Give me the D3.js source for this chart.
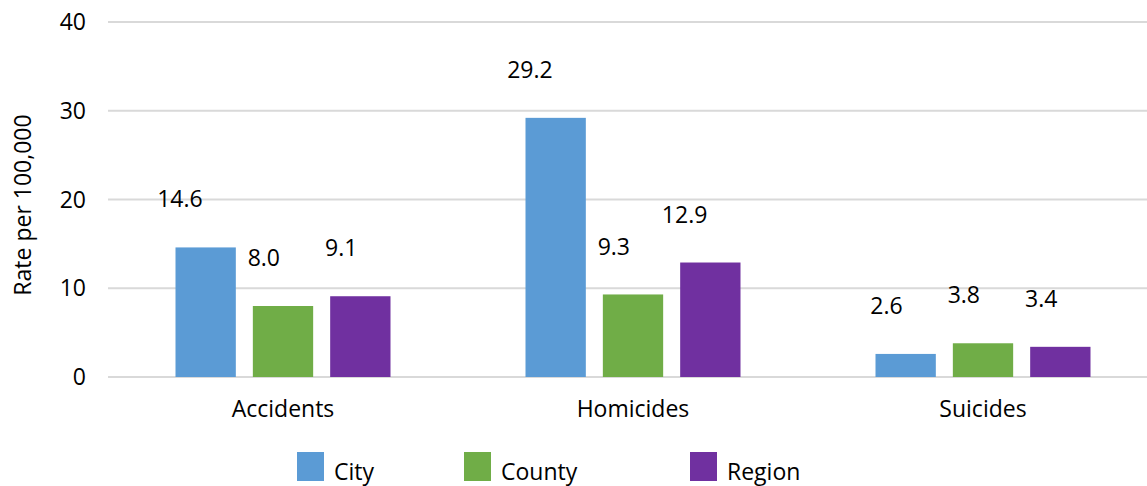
<!DOCTYPE html>
<html><head><meta charset="utf-8">
<script src="https://cdn.jsdelivr.net/npm/d3@7"></script>
<style>body{margin:0;background:#fff}svg{display:block;font-family:"Open Sans",Lato,sans-serif}</style>
</head><body><svg id="c" width="1147" height="486"></svg>
<script>
const categories = ["Accidents", "Homicides", "Suicides"];
const seriesNames = ["City", "County", "Region"];
const cityValues = [14.6, 29.2, 2.6];
const countyValues = [8.0, 9.3, 3.8];
const regionValues = [9.1, 12.9, 3.4];
const yTicks = [0, 10, 20, 30, 40];
const colors = ["#5B9BD5", "#70AD47", "#7030A0"];
const allValues = [cityValues, countyValues, regionValues];

const svg = d3.select("#c");
const x0 = d3.scaleBand().domain(categories).range([108, 1158]).paddingInner(0).paddingOuter(0);
const x1 = d3.scaleBand().domain(seriesNames).range([67.5, 350 - 67.5]).paddingInner(0.22).paddingOuter(0);
const y = d3.scaleLinear().domain([0, 40]).range([377, 22]);
const FS = 23;

// gridlines
svg.append("g").selectAll("line").data(yTicks).join("line")
  .attr("x1", 108).attr("x2", 1147)
  .attr("y1", d => y(d)).attr("y2", d => y(d))
  .attr("stroke", "#d9d9d9").attr("stroke-width", 2);

// y tick labels
svg.append("g").selectAll("text").data(yTicks).join("text")
  .attr("x", 86).attr("y", d => y(d)).attr("dy", "0.35em")
  .attr("text-anchor", "end").attr("font-size", FS).attr("fill", "#000")
  .text(d => d);

// y title
svg.append("text").attr("transform", "translate(23,205) rotate(-90)")
  .attr("text-anchor", "middle").attr("font-size", FS).attr("fill", "#000")
  .attr("dy", "0.35em")
  .text("Rate per 100,000");

const bars = [];
categories.forEach((c, ci) => {
  seriesNames.forEach((s, si) => {
    bars.push({c, s, si, v: allValues[si][ci]});
  });
});

svg.append("g").selectAll("rect").data(bars).join("rect")
  .attr("x", d => x0(d.c) + x1(d.s)).attr("width", x1.bandwidth())
  .attr("y", d => y(d.v)).attr("height", d => y(0) - y(d.v))
  .attr("fill", d => colors[d.si]);

svg.append("g").selectAll("text").data(bars).join("text")
  .attr("x", d => x0(d.c) + x1(d.s) + x1.bandwidth() / 2 - 3)
  .attr("y", d => y(d.v) - 48).attr("dy", "0.35em")
  .attr("text-anchor", "end").attr("font-size", FS).attr("fill", "#000")
  .text(d => d.v.toFixed(1));

// category labels
svg.append("g").selectAll("text").data(categories).join("text")
  .attr("x", d => x0(d) + x0.bandwidth() / 2).attr("y", 409).attr("dy", "0.35em")
  .attr("text-anchor", "middle").attr("font-size", FS).attr("fill", "#000")
  .text(d => d);

// legend
const legX = [297, 464, 690];
const lg = svg.append("g").selectAll("g").data(seriesNames).join("g")
  .attr("transform", (d, i) => `translate(${legX[i]},452)`);
lg.append("rect").attr("width", 27).attr("height", 29).attr("fill", (d, i) => colors[i]);
lg.append("text").attr("x", 37).attr("y", 20).attr("dy", "0.35em")
  .attr("font-size", FS).attr("fill", "#000").text(d => d);
</script></body></html>
